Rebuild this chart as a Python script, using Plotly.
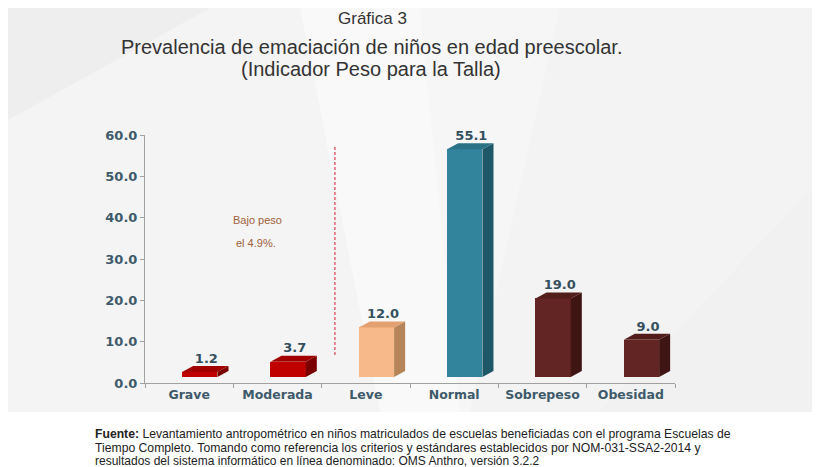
import plotly.graph_objects as go

categories = ["Grave", "Moderada", "Leve", "Normal", "Sobrepeso", "Obesidad"]
values = [1.2, 3.7, 12.0, 55.1, 19.0, 9.0]
front_colors = ["#C00000", "#C00000", "#F8B98A", "#31849B", "#632523", "#632523"]
side_colors = ["#7A0000", "#7A0000", "#B58459", "#1E5868", "#3E1513", "#3E1513"]
top_colors = ["#A00000", "#A00000", "#E3A171", "#2A7285", "#521E1C", "#521E1C"]
y_ticks = [0, 10, 20, 30, 40, 50, 60]

# the page body adds an 8px margin; size the figure to fill the rest of the window
BODY = 8
W, H = 820 - BODY, 467 - BODY
ML, MT = 145 - BODY, 135 - BODY
PW, PH = 530, 248
MR, MB = W - ML - PW, H - MT - PH


def px(x):  # window pixel -> paper x
    return (x - BODY - ML) / PW


def py(y):  # window pixel -> paper y
    return (H - MB - (y - BODY)) / PH


BASE = 1.45            # floor of the 3D bars (axis units)
OFF, BW = -0.08, 0.40  # front-face offset and width (category units)
DX, DY = 0.125, 1.45   # depth of 3D effect

fig = go.Figure()

xs = list(range(len(categories)))
fig.add_trace(go.Bar(
    x=xs, y=values, base=BASE, offset=OFF, width=BW,
    marker=dict(color=front_colors, line=dict(width=0)),
    hoverinfo="skip", showlegend=False,
))

for i, v in enumerate(values):
    l = i + OFF
    r = l + BW
    top = BASE + v
    fig.add_trace(go.Scatter(
        x=[r, r, r + DX, r + DX, r], y=[BASE, top, top + DY, BASE + DY, BASE],
        fill="toself", fillcolor=side_colors[i], mode="lines",
        line=dict(width=0, color=side_colors[i]), hoverinfo="skip", showlegend=False,
    ))
    fig.add_trace(go.Scatter(
        x=[l, r, r + DX, l + DX, l], y=[top, top, top + DY, top + DY, top],
        fill="toself", fillcolor=top_colors[i], mode="lines",
        line=dict(width=0, color=top_colors[i]), hoverinfo="skip", showlegend=False,
    ))

fig.add_trace(go.Scatter(
    x=[i + OFF + BW / 2 + DX * 0.6 for i in xs],
    y=[BASE + v + DY for v in values],
    mode="text", text=[f"{v:.1f}" for v in values], textposition="top center",
    textfont=dict(family="DejaVu Sans", size=13, color="#34505E", weight="bold"),
    cliponaxis=False, hoverinfo="skip", showlegend=False,
))

shapes = []
shapes.append(dict(type="rect", xref="paper", yref="paper", x0=px(BODY), x1=px(820), y0=py(412), y1=py(BODY),
                   fillcolor="#EEEEEE", line=dict(width=0), layer="below"))
for poly, op in [
    ([(BODY, 412), (BODY, 120), (210, BODY), (420, BODY), (460, 412)], 0.35),
    ([(300, BODY), (560, BODY), (470, 412), (380, 412)], 0.45),
    ([(560, BODY), (820, BODY), (820, 180), (600, 412), (470, 412)], 0.3),
    ([(820, 180), (820, 412), (600, 412)], 0.2),
]:
    path = "M " + " L ".join(f"{px(a)},{py(b)}" for a, b in poly) + " Z"
    shapes.append(dict(type="path", xref="paper", yref="paper", path=path,
                       fillcolor="white", opacity=op, line=dict(width=0), layer="below"))
shapes.append(dict(type="line", xref="x", yref="y", x0=1.65, x1=1.65, y0=6.8, y1=57.2,
                   line=dict(color="#D9404E", width=1.2, dash="3px,2px")))


def ann(text, x, y, size, color="#333333", xanchor="center", family="Liberation Sans"):
    return dict(text=text, x=px(x), y=py(y), xref="paper", yref="paper", showarrow=False,
                xanchor=xanchor, yanchor="middle",
                font=dict(family=family, size=size, color=color))


annotations = [
    ann("Gráfica 3", 372, 18, 17),
    ann("Prevalencia de emaciación de niños en edad preescolar.", 371, 47, 20),
    ann("(Indicador Peso para la Talla)", 371, 69, 20),
    ann("Bajo peso", 257, 220, 11, "#A0603A"),
    ann("el 4.9%.", 256, 243, 11, "#A0603A"),
    ann("<b>Fuente:</b> Levantamiento antropométrico en niños matriculados de escuelas beneficiadas con el programa Escuelas de",
        93, 434, 12.2, "#222222", "left"),
    ann("Tiempo Completo. Tomando como referencia los criterios y estándares establecidos por NOM-031-SSA2-2014 y",
        93, 448, 12.2, "#222222", "left"),
    ann("resultados del sistema informático en línea denominado: OMS Anthro, versión 3.2.2",
        93, 461, 12, "#222222", "left"),
]

fig.update_layout(
    width=W, height=H,
    margin=dict(l=ML, r=MR, t=MT, b=MB),
    paper_bgcolor="white", plot_bgcolor="rgba(0,0,0,0)",
    shapes=shapes, annotations=annotations, bargap=0,
    xaxis=dict(
        range=[-0.5, 5.5], tickmode="array", tickvals=xs, ticktext=categories,
        showgrid=False, zeroline=False, showline=True, linecolor="#A0A0A0", linewidth=1,
        ticks="", tickfont=dict(family="DejaVu Sans", size=12.5, color="#3E5A6A", weight="bold"),
        minor=dict(tickmode="linear", tick0=-0.5, dtick=1, ticks="outside", ticklen=4,
                   tickcolor="#A0A0A0", showgrid=False),
        fixedrange=True,
    ),
    yaxis=dict(
        range=[0, 60], tickmode="array", tickvals=y_ticks, tickformat=".1f",
        showgrid=False, zeroline=False, showline=True, linecolor="#A0A0A0", linewidth=1,
        ticks="outside", ticklen=4, tickcolor="#A0A0A0",
        tickfont=dict(family="DejaVu Sans", size=13, color="#3E5A6A", weight="bold"),
        fixedrange=True,
    ),
)

fig.write_html("out.html")
